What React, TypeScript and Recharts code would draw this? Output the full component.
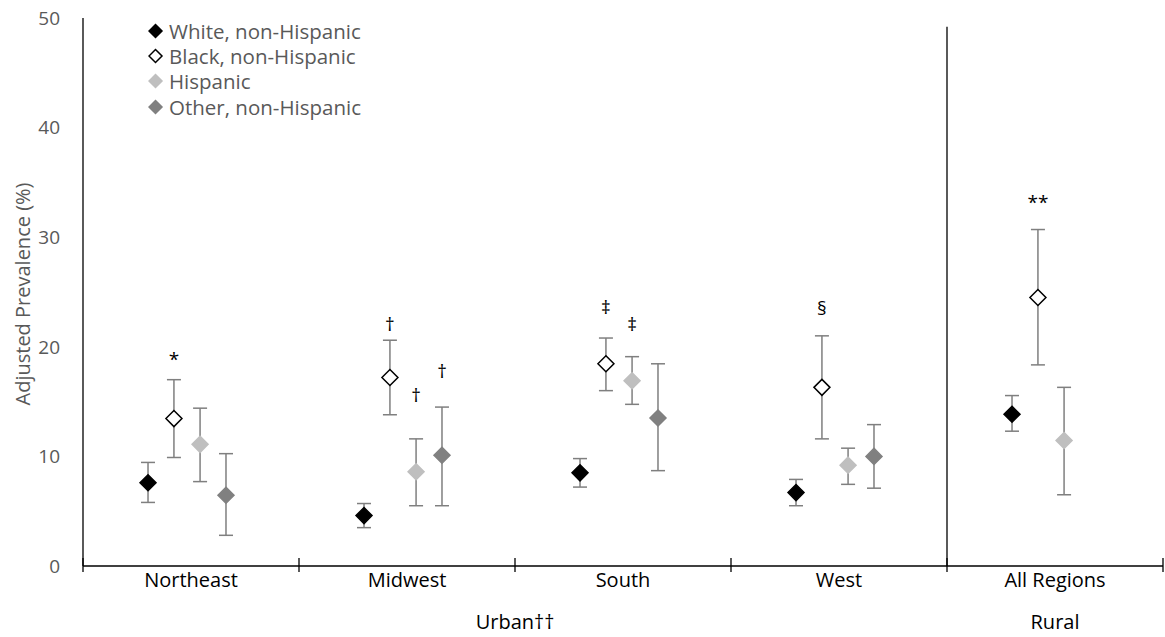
import { ComposedChart, Scatter, ErrorBar, XAxis, YAxis, ReferenceLine } from 'recharts'

const categories = ['Northeast', 'Midwest', 'South', 'West', 'All Regions']

const seriesNames = ['White, non-Hispanic', 'Black, non-Hispanic', 'Hispanic', 'Other, non-Hispanic']

// adjusted prevalence (%) and 95% CI per category
const white = [7.6, 4.6, 8.5, 6.7, 13.85]
const whiteLow = [5.8, 3.5, 7.2, 5.5, 12.3]
const whiteHigh = [9.45, 5.7, 9.8, 7.9, 15.55]

const black = [13.45, 17.2, 18.45, 16.3, 24.5]
const blackLow = [9.9, 13.8, 16.0, 11.6, 18.35]
const blackHigh = [17.0, 20.6, 20.8, 21.0, 30.7]

const hispanic = [11.1, 8.6, 16.9, 9.2, 11.45]
const hispanicLow = [7.7, 5.5, 14.75, 7.45, 6.5]
const hispanicHigh = [14.4, 11.6, 19.1, 10.75, 16.3]

const other = [6.45, 10.1, 13.5, 10.0, null]
const otherLow = [2.8, 5.5, 8.7, 7.1, null]
const otherHigh = [10.25, 14.5, 18.45, 12.9, null]

const yTicks = [0, 10, 20, 30, 40, 50]

// significance marks: category, series, height (%)
const marks = [
  { cat: 0, series: 1, y: 18.9, text: '*' },
  { cat: 1, series: 1, y: 22.1, text: '†' },
  { cat: 1, series: 2, y: 15.6, text: '†' },
  { cat: 1, series: 3, y: 17.8, text: '†' },
  { cat: 2, series: 1, y: 23.6, text: '‡' },
  { cat: 2, series: 2, y: 22.1, text: '‡' },
  { cat: 3, series: 1, y: 23.5, text: '§' },
  { cat: 4, series: 1, y: 33.2, text: '**' }
]

const groups = [
  { label: 'Urban††', start: 0, end: 4 },
  { label: 'Rural', start: 4, end: 5 }
]

const FONT = '"Open Sans", sans-serif'
const colors = ['#000000', '#ffffff', '#bfbfbf', '#808080']
const strokes = ['#000000', '#000000', '#bfbfbf', '#808080']
const offsets = [-0.199, -0.079, 0.042, 0.162]

const seriesData = [
  [white, whiteLow, whiteHigh],
  [black, blackLow, blackHigh],
  [hispanic, hispanicLow, hispanicHigh],
  [other, otherLow, otherHigh]
].map(([vals, lows, highs], s) =>
  categories
    .map((_, i) => ({
      x: i + 0.5 + offsets[s],
      y: vals[i],
      err: vals[i] == null ? null : [vals[i]! - lows[i]!, highs[i]! - vals[i]!]
    }))
    .filter(d => d.y != null)
)

const markData = marks.map(m => ({ x: m.cat + 0.5 + offsets[m.series], y: m.y, text: m.text }))

const boundaryTicks = categories.map((_, i) => i).concat(categories.length)
const labelTicks = categories.map((_, i) => i + 0.5)
const allTicks = [...boundaryTicks, ...labelTicks].sort((a, b) => a - b)

const diamond = (fill: string, stroke: string, r: number) => (props: any) => {
  const { cx, cy } = props
  if (cx == null || cy == null) return <g />
  return (
    <path
      d={`M${cx},${cy - r}L${cx + r},${cy}L${cx},${cy + r}L${cx - r},${cy}Z`}
      fill={fill}
      stroke={stroke}
      strokeWidth={1.5}
    />
  )
}

const MarkShape = (props: any) => {
  const { cx, cy, payload } = props
  return (
    <text x={cx} y={cy} textAnchor="middle" dominantBaseline="central" fontSize={19} fontFamily={FONT} fill="#000">
      {payload.text}
    </text>
  )
}

const XTick = (props: any) => {
  const { x, y, payload } = props
  const v = payload.value
  const out = []
  if (Number.isInteger(v)) {
    out.push(<line key="t" x1={x} x2={x} y1={y - 8} y2={y + 6} stroke="#000" strokeWidth={1.3} />)
  } else {
    out.push(
      <text key="c" x={x} y={y + 21} textAnchor="middle" fontSize={20} fontFamily={FONT} fill="#000">
        {categories[Math.floor(v)]}
      </text>
    )
  }
  groups.forEach(g => {
    if ((g.start + g.end) / 2 === v) {
      out.push(
        <text key="g" x={x} y={y + 63} textAnchor="middle" fontSize={20} fontFamily={FONT} fill="#000">
          {g.label}
        </text>
      )
    }
  })
  return <g>{out}</g>
}

const YLabel = (props: any) => {
  const vb = props.viewBox || { y: 18, height: 548 }
  const cy = vb.y + vb.height / 2 + 2
  return (
    <text
      x={22}
      y={cy}
      transform={`rotate(-90, 22, ${cy})`}
      textAnchor="middle"
      dominantBaseline="central"
      fontSize={20}
      fontFamily={FONT}
      fill="#595959"
    >
      Adjusted Prevalence (%)
    </text>
  )
}

const App = () => {
  return (
    <div style={{ position: 'absolute', left: 0, top: 0, width: 1165, height: 637, background: '#fff' }}>
      <ComposedChart width={1165} height={637} margin={{ top: 18, right: 2, bottom: 0, left: 0 }}>
        <XAxis
          type="number"
          dataKey="x"
          domain={[0, categories.length]}
          ticks={allTicks}
          interval={0}
          tick={<XTick />}
          tickLine={false}
          tickSize={0}
          tickMargin={0}
          height={71}
          axisLine={{ stroke: '#000', strokeWidth: 1.3 }}
          allowDataOverflow
        />
        <YAxis
          type="number"
          dataKey="y"
          domain={[0, 50]}
          ticks={yTicks}
          interval={0}
          width={83}
          tickLine={false}
          tickMargin={17}
          tick={{ fill: '#595959', fontSize: 19, fontFamily: FONT }}
          axisLine={{ stroke: '#000', strokeWidth: 1.3 }}
          label={{ content: <YLabel /> }}
          allowDataOverflow
        />
        <ReferenceLine
          segment={[{ x: 4, y: 0 }, { x: 4, y: 49.2 }]}
          stroke="#000"
          strokeWidth={1.3}
        />
        {seriesData.map((data, s) => (
          <Scatter
            key={seriesNames[s]}
            name={seriesNames[s]}
            data={data}
            shape={diamond(colors[s], strokes[s], 8)}
            isAnimationActive={false}
          >
            <ErrorBar dataKey="err" direction="y" width={7} stroke="#7f7f7f" strokeWidth={1.5} />
          </Scatter>
        ))}
        <Scatter data={markData} shape={<MarkShape />} isAnimationActive={false} />
      </ComposedChart>

      <div style={{ position: 'absolute', left: 148, top: 18, fontFamily: FONT, fontSize: 20.5, color: '#595959' }}>
        {seriesNames.map((name, s) => (
          <div key={name} style={{ display: 'flex', alignItems: 'center', height: 25.3 }}>
            <svg width={21} height={16}>
              <path
                d="M7.5,1.5L14,8L7.5,14.5L1,8Z"
                fill={colors[s]}
                stroke={strokes[s]}
                strokeWidth={1.5}
              />
            </svg>
            <span style={{ whiteSpace: 'nowrap' }}>{name}</span>
          </div>
        ))}
      </div>
    </div>
  )
}

export default App
